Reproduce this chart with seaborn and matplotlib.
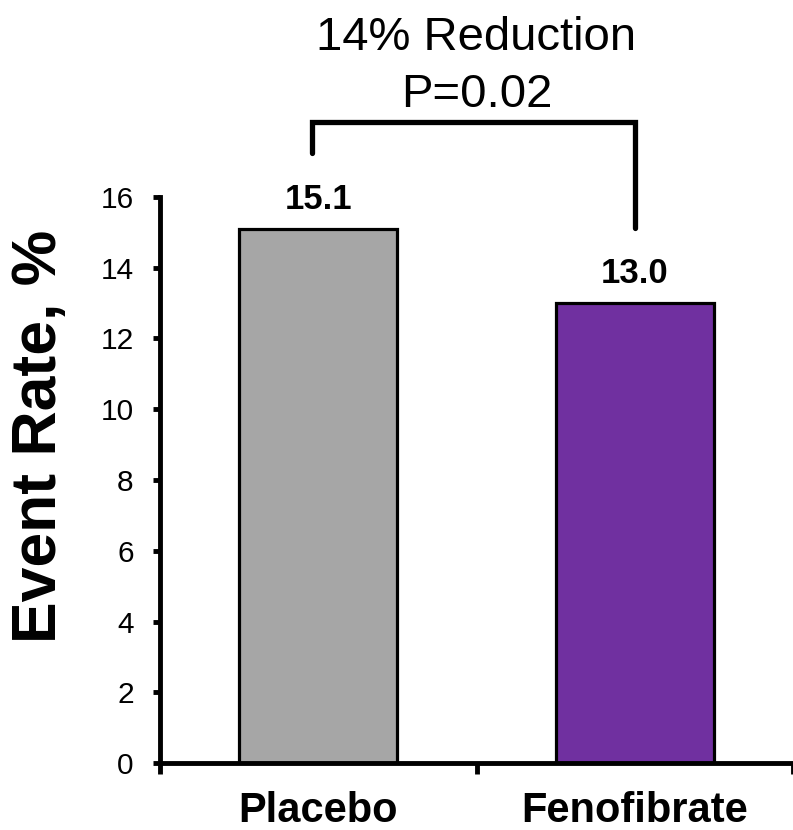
import matplotlib
matplotlib.use("Agg")
import matplotlib.pyplot as plt
import seaborn as sns
import pandas as pd

groups = ["Placebo", "Fenofibrate"]
event_rates = [15.1, 13.0]
bar_colors = ["#A6A6A6", "#7030A0"]
y_ticks = [0, 2, 4, 6, 8, 10, 12, 14, 16]
headline = "14% Reduction"
p_text = "P=0.02"

sns.set_theme(style="white")
plt.rcParams["font.family"] = ["Liberation Sans", "DejaVu Sans"]
plt.rcParams["text.color"] = "black"
plt.rcParams["xtick.color"] = "black"
plt.rcParams["ytick.color"] = "black"
plt.rcParams["axes.labelcolor"] = "black"

df = pd.DataFrame({"group": groups, "rate": event_rates})

fig = plt.figure(figsize=(7.93, 8.30), dpi=100)
ax = fig.add_axes([0.2018, 0.0807, 0.7982, 0.6820])

sns.barplot(data=df, x="group", y="rate", hue="group", palette=bar_colors,
            order=groups, hue_order=groups, width=0.5, dodge=False,
            saturation=1, edgecolor="black", linewidth=2.3, legend=False, ax=ax)

ax.set_xlim(-0.5, 1.5)
ax.set_ylim(0, 16)
ax.set_yticks(y_ticks)
ax.set_yticklabels([str(t) for t in y_ticks], fontsize=21.5, color="black")

# category labels without marks; boundary marks as minor ticks
ax.set_xticks(range(len(groups)))
ax.set_xticklabels(groups, fontsize=30, fontweight="bold", color="black")
ax.set_xticks([-0.5, 0.5, 1.5], minor=True)
ax.tick_params(axis="x", which="major", length=0, pad=20)
ax.tick_params(axis="x", which="minor", direction="out", length=8, width=3.5,
               color="black", bottom=True)
ax.tick_params(axis="y", which="major", direction="out", length=5, width=3.5,
               color="black", left=True, pad=14)

for side in ["top", "right"]:
    ax.spines[side].set_visible(False)
for side in ["left", "bottom"]:
    ax.spines[side].set_color("black")
    ax.spines[side].set_linewidth(3.5)

ax.set_xlabel("")
ax.set_ylabel("")
fig.text(40 / 793, 1 - 436 / 830, "Event Rate, %", rotation=90,
         ha="center", va="center", fontsize=45, fontweight="bold", color="black")

# value labels above bars
for i, v in enumerate(event_rates):
    ax.annotate(f"{v:.1f}", xy=(i, v), xytext=(0, 14.5), textcoords="offset points",
                ha="center", va="baseline", fontsize=25, fontweight="bold",
                color="black", annotation_clip=False)

# significance bracket
bx = [-0.02, -0.02, 1.0, 1.0]
by = [event_rates[0] + 2.15, 18.12, 18.12, event_rates[1] + 2.12]
ax.plot(bx, by, color="black", lw=3.8, clip_on=False, solid_joinstyle="miter")
ax.text(0.5, 20.16, headline, ha="center", va="baseline", fontsize=34, color="black")
ax.text(0.5, 18.54, p_text, ha="center", va="baseline", fontsize=34, color="black")

fig.savefig("out.png", dpi=100)
